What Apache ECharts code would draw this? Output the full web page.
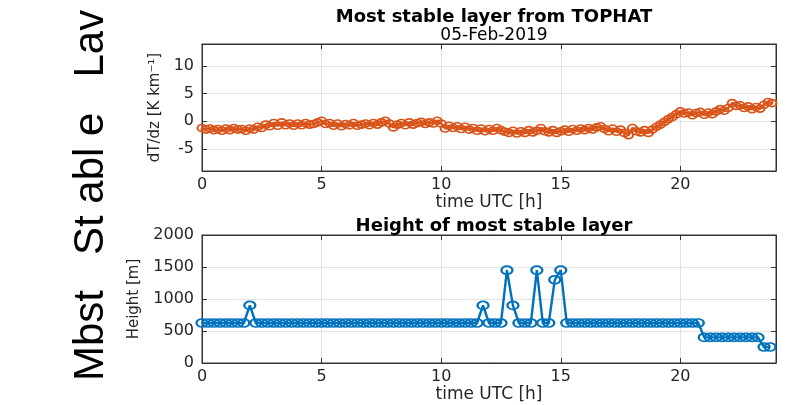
<!DOCTYPE html>
<html>
<head>
<meta charset="utf-8">
<script src="https://cdn.jsdelivr.net/npm/echarts@6/dist/echarts.min.js"></script>
<style>
html,body{margin:0;padding:0;background:#fff;}
#chart{width:804px;height:405px;}
</style>
</head>
<body>
<div id="chart"></div>
<script>
// ---- data ----
const mainTitle = 'Most stable layer from TOPHAT';
const dateTitle = '05-Feb-2019';
const lowerTitle = 'Height of most stable layer';
const sideText = 'Mbst   St abl e   Lav';
const xName = 'time UTC [h]';
const gradName = 'dT/dz [K km\u207B\u00B9]';
const heightName = 'Height [m]';

// dT/dz, 10-minute samples from 00:00 UTC
const gradStepMin = 10;
const gradValues = [
  -1.2, -1.5, -1.3, -1.6, -1.4, -1.7,
  -1.3, -1.6, -1.2, -1.5, -1.4, -1.7,
  -1.3, -1.5, -1.0, -1.2, -0.6, -0.9,
  -0.3, -0.8, -0.2, -0.7, -0.4, -0.8,
  -0.4, -0.7, -0.3, -0.6, -0.5, -0.2,
   0.1, -0.5, -0.3, -0.8, -0.4, -0.9,
  -0.5, -0.7, -0.3, -0.8, -0.6, -0.4,
  -0.7, -0.3, -0.6, -0.2,  0.1, -0.4,
  -1.1, -0.6, -0.3, -0.7, -0.2, -0.6,
  -0.3, -0.1, -0.5, -0.2, -0.4,  0.1,
  -0.4, -1.3, -0.8, -1.2, -0.9, -1.4,
  -1.0, -1.5, -1.2, -1.7, -1.3, -1.8,
  -1.4, -1.7, -1.2, -1.6, -1.9, -2.1,
  -1.7, -2.2, -1.8, -2.1, -1.6, -2.0,
  -1.7, -1.2, -1.8, -2.0, -1.6, -2.1,
  -1.8, -1.5, -1.9, -1.4, -1.7, -1.3,
  -1.6, -1.2, -1.5, -1.1, -0.9, -1.4,
  -1.8, -1.3, -1.9, -1.5, -2.1, -2.5,
  -1.2, -1.8, -2.0, -1.6, -2.1, -1.5,
  -1.0, -0.6, -0.1,  0.4,  0.8,  1.3,
   1.8,  1.4,  1.6,  1.1,  1.5,  1.7,
   1.2,  1.6,  1.3,  1.8,  2.2,  1.9,
   2.4,  3.3,  2.8,  2.9,  2.4,  2.7,
   2.2,  2.6,  2.3,  3.0,  3.5,  3.3
];

// Height of most stable layer [m], 15-minute samples from 00:00 UTC
const heightStepMin = 15;
const heightValues = [
  625, 625, 625, 625, 625, 625, 625, 625,   // 0-2h
  900, 625, 625, 625, 625, 625, 625, 625,   // 2-4h
  625, 625, 625, 625, 625, 625, 625, 625,   // 4-6h
  625, 625, 625, 625, 625, 625, 625, 625,   // 6-8h
  625, 625, 625, 625, 625, 625, 625, 625,   // 8-10h
  625, 625, 625, 625, 625, 625, 625, 900,   // 10-12h
  625, 625, 625, 1450, 900, 625, 625, 625,  // 12-14h
  1450, 625, 625, 1300, 1450, 625, 625, 625,// 14-16h
  625, 625, 625, 625, 625, 625, 625, 625,   // 16-18h
  625, 625, 625, 625, 625, 625, 625, 625,   // 18-20h
  625, 625, 625, 625, 400, 400, 400, 400,   // 20-22h
  400, 400, 400, 400, 400, 400, 250, 250    // 22-24h
];

// ---- build ----
const gradData = gradValues.map((v, i) => [i * gradStepMin / 60, v]);
const heightData = heightValues.map((v, i) => [i * heightStepMin / 60, v]);

const FONT = 'DejaVu Sans';
const axisCol = '#333333';
const txtCol = '#262626';
const gridCol = '#e3e3e3';
const plainNum = v => String(v);

function xAx(gi) {
  return {
    gridIndex: gi, type: 'value', min: 0, max: 24, interval: 5,
    axisLine: {onZero: false, lineStyle: {color: axisCol, width: 1}},
    axisTick: {inside: true, length: 5, lineStyle: {color: axisCol}},
    axisLabel: {showMaxLabel: false, margin: 6, color: txtCol, fontFamily: FONT, fontSize: 16, formatter: plainNum},
    splitLine: {show: true, lineStyle: {color: gridCol, width: 1}},
    name: xName, nameLocation: 'middle', nameGap: 20,
    nameTextStyle: {color: txtCol, fontFamily: FONT, fontSize: 17}
  };
}
function xMirror(gi) {
  return {
    gridIndex: gi, type: 'value', min: 0, max: 24, interval: 5, position: 'top',
    axisLine: {onZero: false, lineStyle: {color: axisCol}},
    axisTick: {inside: true, length: 5, lineStyle: {color: axisCol}},
    axisLabel: {show: false}, splitLine: {show: false}
  };
}
function yAx(gi, cfg) {
  return Object.assign({
    gridIndex: gi, type: 'value',
    axisLine: {show: true, onZero: false, lineStyle: {color: axisCol}},
    axisTick: {show: true, inside: true, length: 5, lineStyle: {color: axisCol}},
    axisLabel: {margin: 8, color: txtCol, fontFamily: FONT, fontSize: 16, formatter: plainNum},
    splitLine: {show: true, lineStyle: {color: gridCol, width: 1}},
    nameLocation: 'middle',
    nameTextStyle: {color: txtCol, fontFamily: FONT, fontSize: 15}
  }, cfg);
}
function yMirror(gi, cfg) {
  return Object.assign({
    gridIndex: gi, type: 'value', position: 'right',
    axisLine: {show: true, onZero: false, lineStyle: {color: axisCol}},
    axisTick: {show: true, inside: true, length: 5, lineStyle: {color: axisCol}},
    axisLabel: {show: false}, splitLine: {show: false}
  }, cfg);
}

const option = {
  backgroundColor: '#ffffff',
  animation: false,
  title: [
    {text: mainTitle, left: 489, top: 3, textAlign: 'center',
     textStyle: {fontFamily: FONT, fontWeight: 'bold', fontSize: 18, color: '#000'}},
    {text: dateTitle, left: 489, top: 22, textAlign: 'center',
     textStyle: {fontFamily: FONT, fontWeight: 'normal', fontSize: 17, color: '#000'}},
    {text: lowerTitle, left: 489, top: 212, textAlign: 'center',
     textStyle: {fontFamily: FONT, fontWeight: 'bold', fontSize: 18, color: '#000'}}
  ],
  grid: [
    {left: 202, right: 28, top: 44, height: 127, show: true, borderColor: axisCol, borderWidth: 1, backgroundColor: '#fff'},
    {left: 202, right: 28, top: 235, height: 128, show: true, borderColor: axisCol, borderWidth: 1, backgroundColor: '#fff'}
  ],
  xAxis: [xAx(0), xAx(1), xMirror(0), xMirror(1)],
  yAxis: [
    yAx(0, {min: -9, max: 14, splitNumber: 5, name: gradName, nameGap: 38,
            axisLabel: {showMinLabel: false, showMaxLabel: false, margin: 8, color: txtCol, fontFamily: FONT, fontSize: 16, formatter: plainNum}}),
    yAx(1, {min: 0, max: 2000, interval: 500, name: heightName, nameGap: 60}),
    yMirror(0, {min: -9, max: 14, splitNumber: 5}),
    yMirror(1, {min: 0, max: 2000, interval: 500})
  ],
  graphic: [{
    type: 'text', x: 91, y: 381, rotation: Math.PI / 2,
    style: {text: sideText, fontFamily: 'Liberation Sans', fontSize: 42, fill: '#000',
            textAlign: 'left', textVerticalAlign: 'middle', verticalAlign: 'middle'}
  }],
  series: [
    {type: 'line', xAxisIndex: 0, yAxisIndex: 0, data: gradData, showAllSymbol: true,
     symbol: 'circle', symbolSize: [9, 7],
     lineStyle: {color: '#D95319', width: 2.4},
     itemStyle: {color: 'rgba(0,0,0,0)', borderColor: '#D95319', borderWidth: 1.8}},
    {type: 'line', xAxisIndex: 1, yAxisIndex: 1, data: heightData, showAllSymbol: true,
     symbol: 'circle', symbolSize: [11, 8],
     lineStyle: {color: '#0072BD', width: 2.4},
     itemStyle: {color: 'rgba(0,0,0,0)', borderColor: '#0072BD', borderWidth: 2}}
  ]
};

const chart = echarts.init(document.getElementById('chart'), null, {renderer: 'canvas'});
chart.setOption(option);
</script>
</body>
</html>
